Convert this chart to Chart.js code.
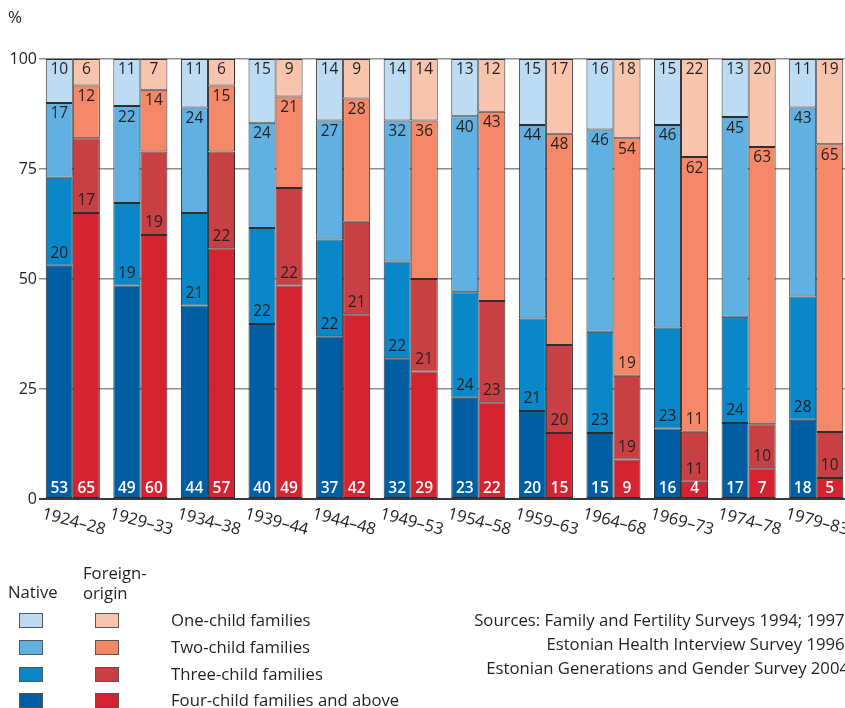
<!DOCTYPE html>
<html>
<head>
<meta charset="utf-8">
<script src="https://cdn.jsdelivr.net/npm/chart.js@4"></script>
<style>
  html, body { margin: 0; padding: 0; overflow: hidden; background: #fff; width: 845px; height: 708px; }
  body { position: relative; font-family: "Open Sans", sans-serif; color: #231f20; }
  #c { position: absolute; left: 0; top: 0; }
  .t { position: absolute; font-size: 16.7px; line-height: 20px; white-space: nowrap; }
  .sw { position: absolute; width: 22px; height: 13px; border: 1px solid #555; }
</style>
</head>
<body>
<canvas id="c" width="852" height="708"></canvas>
<div class="t" style="left:8px;top:7px;font-size:17px;">%</div>
<div id="legend"></div>
<div class="t" style="right:-4px;top:608px;text-align:right;line-height:24px;">
  Sources: Family and Fertility Surveys 1994; 1997;<br>
  Estonian Health Interview Survey 1996;<br>
  Estonian Generations and Gender Survey 2004
</div>
<script>
// ---- data ----
const categories = ['1924–28','1929–33','1934–38','1939–44','1944–48','1949–53','1954–58','1959–63','1964–68','1969–73','1974–78','1979–83'];
const yTicks = [0, 25, 50, 75, 100];

// Native (bottom to top: four+, three, two, one child)
const nativeFour  = [53, 48.5, 44, 39.8, 37, 32, 23, 20, 15, 16, 17.3, 18];
const nativeThree = [20, 18.8, 21, 21.8, 22, 22, 24, 21, 23, 23, 24.1, 28];
const nativeTwo   = [17, 22, 24, 23.9, 27, 32, 40, 44, 46, 46, 45.4, 43];
const nativeOne   = [10, 10.7, 11, 14.5, 14, 14, 13, 15, 16, 15, 13.2, 11];

// Foreign-origin
const foreignFour  = [65, 60, 57, 48.5, 42, 29, 22, 15, 9, 3.9, 7, 4.8];
const foreignThree = [17, 19, 22, 22.2, 21, 21, 23, 20, 19, 11.4, 10, 10.4];
const foreignTwo   = [12, 14, 15, 20.8, 28, 36, 43, 48, 54, 62.4, 63, 65.4];
const foreignOne   = [6, 7, 6, 8.5, 9, 14, 12, 17, 18, 22.3, 20, 19.4];

// extra labels printed above the foreign three-child segment in the original
const foreignThreeExtraLabels = ['', '', '', '', '', '', '', '', '19', '11', '', ''];

const legendLabels = ['One-child families', 'Two-child families', 'Three-child families', 'Four-child families and above'];

// ---- styles ----
const nativeColors  = { one: '#bddbf2', two: '#60b1e1', three: '#0a87c8', four: '#025ea2' };
const foreignColors = { one: '#f9c4ae', two: '#f58869', three: '#c84043', four: '#d42331' };

function ds(label, data, color, stack, pos) {
  return { label, data, backgroundColor: color, borderColor: '#2e2e2e', borderWidth: 1,
           borderSkipped: false, stack, labelPos: pos };
}

const datasets = [
  ds('Native four+', nativeFour, nativeColors.four, 'native', 'base'),
  ds('Native three', nativeThree, nativeColors.three, 'native', 'bottom'),
  ds('Native two', nativeTwo, nativeColors.two, 'native', 'top'),
  ds('Native one', nativeOne, nativeColors.one, 'native', 'top'),
  ds('Foreign four+', foreignFour, foreignColors.four, 'foreign', 'base'),
  ds('Foreign three', foreignThree, foreignColors.three, 'foreign', 'bottom'),
  ds('Foreign two', foreignTwo, foreignColors.two, 'foreign', 'top'),
  ds('Foreign one', foreignOne, foreignColors.one, 'foreign', 'top'),
];

const FONT = '"Open Sans", sans-serif';

const labelPlugin = {
  id: 'segLabels',
  afterDatasetsDraw(chart) {
    const ctx = chart.ctx;
    ctx.save();
    ctx.textAlign = 'center';
    ctx.textBaseline = 'middle';
    chart.data.datasets.forEach((d, i) => {
      const meta = chart.getDatasetMeta(i);
      meta.data.forEach((el, j) => {
        const txt = String(Math.round(d.data[j]));
        let y;
        if (d.labelPos === 'base') {
          ctx.fillStyle = '#ffffff';
          ctx.font = '600 15.5px ' + FONT;
          y = el.base - 9;
        } else if (d.labelPos === 'bottom') {
          ctx.fillStyle = '#231f20';
          ctx.font = '15.5px ' + FONT;
          y = el.base - 12;
        } else {
          ctx.fillStyle = '#231f20';
          ctx.font = '15.5px ' + FONT;
          y = el.y + 11;
        }
        ctx.fillText(txt, el.x, y);
        if (d.label === 'Foreign three' && foreignThreeExtraLabels[j]) {
          ctx.fillStyle = '#231f20';
          ctx.font = '15.5px ' + FONT;
          ctx.fillText(foreignThreeExtraLabels[j], el.x, el.y - 12);
        }
      });
    });
    // rotated x category labels
    const xs = chart.scales.x;
    ctx.font = '16.5px ' + FONT;
    ctx.fillStyle = '#231f20';
    categories.forEach((c, k) => {
      const x = xs.getPixelForValue(k);
      ctx.save();
      ctx.translate(x + 1, 522);
      ctx.rotate(15 * Math.PI / 180);
      ctx.textAlign = 'center';
      ctx.textBaseline = 'middle';
      ctx.fillText(c, 0, 0);
      ctx.restore();
    });
    ctx.restore();
  }
};

new Chart(document.getElementById('c'), {
  type: 'bar',
  data: { labels: categories, datasets },
  options: {
    responsive: false,
    animation: false,
    events: [],
    layout: { padding: { top: 59, bottom: 209, left: 0, right: 2 } },
    plugins: { legend: { display: false }, tooltip: { enabled: false } },
    datasets: { bar: { categoryPercentage: 0.8, barPercentage: 1 } },
    scales: {
      x: { display: false, stacked: true },
      y: {
        stacked: true, min: 0, max: 100,
        afterFit: s => { s.width = 39; },
        afterBuildTicks: s => { s.ticks = yTicks.map(v => ({ value: v })); },
        border: { display: false },
        grid: {
          drawTicks: false,
          color: c => c.tick && c.tick.value === 0 ? '#3a3a3a' : '#8e8e8e',
          lineWidth: c => c.tick && c.tick.value === 0 ? 2 : 1.5
        },
        ticks: { padding: 2, color: '#231f20', font: { family: FONT, size: 16 } }
      }
    }
  },
  plugins: [labelPlugin]
});

// legend (HTML)
const leg = document.getElementById('legend');
let html = '<div class="t" style="left:8px;top:582px;">Native</div>' +
           '<div class="t" style="left:83px;top:563px;">Foreign-</div>' +
           '<div class="t" style="left:83px;top:583px;">origin</div>';
const keys = ['one', 'two', 'three', 'four'];
const rowTops = [613, 640, 667, 693];
keys.forEach((k, i) => {
  html += `<div class="sw" style="left:19px;top:${rowTops[i]}px;background:${nativeColors[k]}"></div>`;
  html += `<div class="sw" style="left:95px;top:${rowTops[i]}px;background:${foreignColors[k]}"></div>`;
  html += `<div class="t" style="left:171px;top:${rowTops[i] - 3}px;">${legendLabels[i]}</div>`;
});
leg.innerHTML = html;
</script>
</body>
</html>
